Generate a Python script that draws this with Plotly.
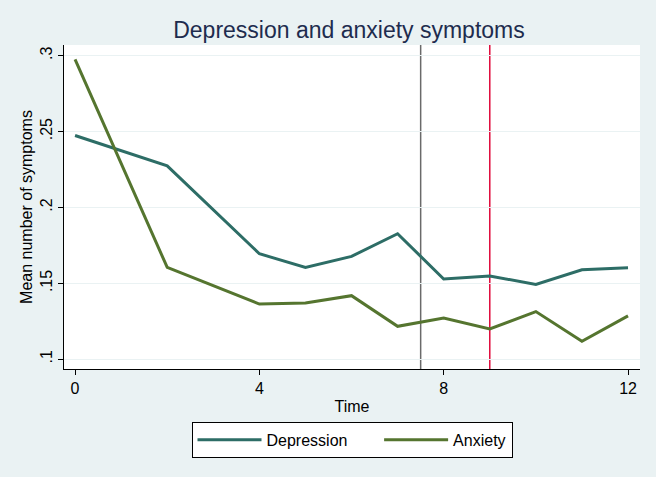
import plotly.graph_objects as go

time = [0, 2, 4, 5, 6, 7, 8, 9, 10, 11, 12]
depression = [0.2474, 0.2274, 0.1695, 0.1605, 0.1678, 0.1827, 0.1529, 0.1549, 0.1493, 0.1590, 0.1603]
anxiety = [0.2976, 0.1605, 0.1364, 0.1371, 0.1419, 0.1217, 0.1272, 0.1200, 0.1314, 0.1118, 0.1286]
series_names = ["Depression", "Anxiety"]
vlines = [7.5, 9]
vline_colors = ["#6a6a6a", "#e0083a"]
x_ticks = [0, 4, 8, 12]
y_ticks = [0.1, 0.15, 0.2, 0.25, 0.3]
y_tick_labels = [".1", ".15", ".2", ".25", ".3"]

FONT = "Liberation Sans, Arial, sans-serif"

fig = go.Figure()
fig.add_trace(go.Scatter(x=time, y=depression, mode="lines",
                         name=series_names[0] + "&nbsp;" * 6,
                         line=dict(color="#2d6d66", width=3)))
fig.add_trace(go.Scatter(x=time, y=anxiety, mode="lines", name=series_names[1],
                         line=dict(color="#55752f", width=3)))

for v, c in zip(vlines, vline_colors):
    fig.add_shape(type="line", x0=v, x1=v, xref="x", y0=0, y1=1, yref="paper",
                  line=dict(color=c, width=1.5), layer="below")

fig.update_layout(
    width=656, height=477,
    margin=dict(l=64, r=16, t=45, b=108, autoexpand=False),
    paper_bgcolor="#eaf2f3",
    plot_bgcolor="white",
    font=dict(family=FONT, color="black", size=16),
    title=dict(text="Depression and anxiety symptoms", x=0.532, xanchor="center",
               y=0.937, yanchor="middle",
               font=dict(family=FONT, size=23, color="#1e2c4e")),
    showlegend=True,
    legend=dict(orientation="h", x=0.5, xanchor="center", y=-0.163, yanchor="top",
                xref="paper", yref="paper",
                bgcolor="white", bordercolor="black", borderwidth=1,
                font=dict(family=FONT, size=16, color="black"),
                itemwidth=64),
    xaxis=dict(range=[-0.24, 12.26], tickvals=x_ticks, ticktext=[str(t) for t in x_ticks],
               showgrid=False, zeroline=False, showline=True, linecolor="black", linewidth=1,
               ticks="outside", ticklen=5, tickcolor="black", automargin=False,
               tickfont=dict(size=16),
               title=dict(text="Time", font=dict(size=16), standoff=4)),
    yaxis=dict(range=[0.0936, 0.307], tickvals=y_ticks, ticktext=y_tick_labels,
               tickangle=-90, automargin=False,
               showgrid=True, gridcolor="#eaf2f3", gridwidth=1, zeroline=False,
               showline=True, linecolor="black", linewidth=1,
               ticks="outside", ticklen=5, tickcolor="black",
               tickfont=dict(size=16),
               title=dict(text="Mean number of symptoms", font=dict(size=16), standoff=0)),
)

fig.write_html("out.html", config={"displayModeBar": False},
               post_script="document.body.style.margin='0';")
